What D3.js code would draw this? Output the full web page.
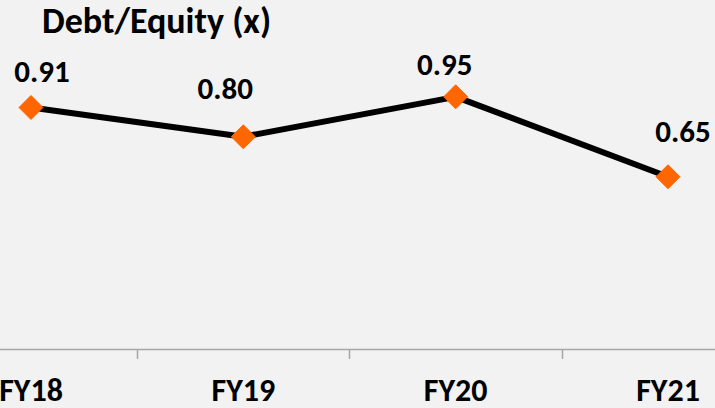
<!DOCTYPE html>
<meta charset="utf-8">
<style>
body { margin: 0; background: #f2f2f2; }
svg text { font-family: Calibri, Carlito, Lato, sans-serif; font-weight: bold; fill: #000; }
</style>
<svg width="715" height="408"></svg>
<script src="https://cdn.jsdelivr.net/npm/d3@7"></script>
<script>
// data
var categories = ["FY18", "FY19", "FY20", "FY21"];
var debtEquity = [0.91, 0.80, 0.95, 0.65];
var valueLabels = ["0.91", "0.80", "0.95", "0.65"];

// label nudges (dx, dy) relative to marker, as placed in the original
var labelNudge = [[11, -25], [-18, -38], [-11, -22], [15, -35]];

var svg = d3.select("svg"),
    width = +svg.attr("width"),
    height = +svg.attr("height");

svg.append("rect").attr("width", width).attr("height", height).attr("fill", "#f2f2f2");

// band scale, chart area is wider than the window so first/last categories are cut
var step = (668 - 31) / 3;
var x = d3.scaleBand()
    .domain(categories)
    .range([31 - step / 2, 668 + step / 2])
    .padding(0);

var y = d3.scaleLinear()
    .domain([0, 1])
    .range([350, 83.5]);

function cx(d) { return x(d) + x.bandwidth() / 2; }

// axis line + ticks between categories
svg.append("line")
    .attr("x1", 0).attr("x2", width)
    .attr("y1", y(0) - 0.5).attr("y2", y(0) - 0.5)
    .attr("stroke", "#a6a6a6").attr("stroke-width", 1.5);

svg.append("g").selectAll("line")
    .data(categories.slice(1))
    .enter().append("line")
    .attr("x1", function(d) { return Math.round(x(d)) + 0.5; })
    .attr("x2", function(d) { return Math.round(x(d)) + 0.5; })
    .attr("y1", y(0)).attr("y2", y(0) + 9)
    .attr("stroke", "#a6a6a6").attr("stroke-width", 1.5);

// category labels
svg.append("g").selectAll("text")
    .data(categories)
    .enter().append("text")
    .attr("x", cx)
    .attr("y", 401)
    .attr("text-anchor", "middle")
    .attr("font-size", 32)
    .text(function(d) { return d; });

// title
svg.append("text")
    .attr("x", 42).attr("y", 33)
    .attr("font-size", 36)
    .text("Debt/Equity (x)");

var pts = categories.map(function(c, i) { return {c: c, v: debtEquity[i], i: i}; });

// line
var line = d3.line()
    .x(function(d) { return cx(d.c); })
    .y(function(d) { return y(d.v); });

svg.append("path")
    .datum(pts)
    .attr("d", line)
    .attr("fill", "none")
    .attr("stroke", "#000")
    .attr("stroke-width", 6)
    .attr("stroke-linejoin", "round");

// diamond markers
svg.append("g").selectAll("path")
    .data(pts)
    .enter().append("path")
    .attr("transform", function(d) { return "translate(" + cx(d.c) + "," + y(d.v) + ")"; })
    .attr("d", "M0,-12L12,0L0,12L-12,0Z")
    .attr("fill", "#ff6600")
    .attr("stroke", "#ff6600")
    .attr("stroke-width", 1)
    .attr("stroke-linejoin", "round");

// value labels
svg.append("g").selectAll("text")
    .data(pts)
    .enter().append("text")
    .attr("x", function(d) { return cx(d.c) + labelNudge[d.i][0]; })
    .attr("y", function(d) { return y(d.v) + labelNudge[d.i][1]; })
    .attr("text-anchor", "middle")
    .attr("font-size", 31)
    .text(function(d) { return valueLabels[d.i]; });
</script>
